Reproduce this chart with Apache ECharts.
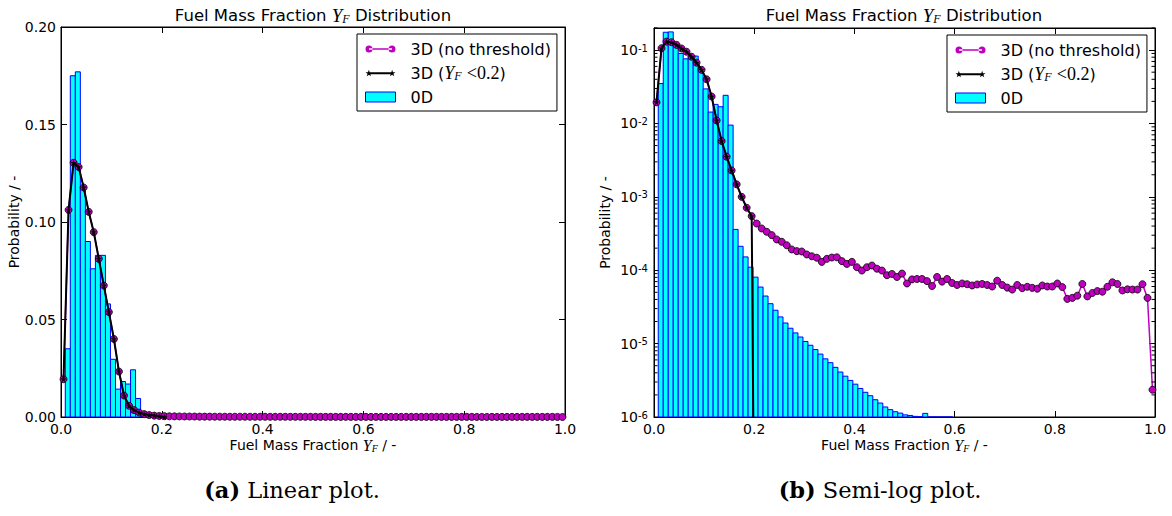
<!DOCTYPE html>
<html><head><meta charset="utf-8">
<script src="https://cdn.jsdelivr.net/npm/echarts@6/dist/echarts.min.js"></script>
<style>html,body{margin:0;padding:0;background:#fff}#c{width:1172px;height:516px}</style>
</head><body><div id="c"></div>
<script>
// ---------- data ----------
const plotTitle = 'Fuel Mass Fraction {it|Y}{sub|F} Distribution';
const xAxisTitle = 'Fuel Mass Fraction {it|Y}{sub|F} / -';
const yAxisTitle = 'Probability / -';
const captionA = '{b|(a)} Linear plot.';
const captionB = '{b|(b)} Semi-log plot.';
const seriesNames = ['3D (no threshold)', '3D (Y_F <0.2)', '0D'];

// 0D histogram: bin edges start and width, then probability per bin
const binStart = 0.0085;
const binWidth = 0.00996;
const hist0D = [
  0.035, 0.175, 0.177, 0.118, 0.090, 0.0760, 0.0829, 0.0829, 0.058, 0.0296,
  0.0143, 0.0182, 0.0169, 0.0242, 0.0095, 3.6e-4, 2.12e-4, 1.52e-4, 1.10e-4, 8.05e-5,
  5.9e-5, 4.45e-5, 3.5e-5, 2.85e-5, 2.31e-5, 1.91e-5, 1.62e-5, 1.40e-5, 1.23e-5, 1.07e-5,
  9.5e-6, 8.3e-6, 7.2e-6, 6.2e-6, 5.5e-6, 4.75e-6, 4.1e-6, 3.6e-6, 3.15e-6, 2.8e-6,
  2.45e-6, 2.17e-6, 1.95e-6, 1.72e-6, 1.55e-6, 1.37e-6, 1.26e-6, 1.18e-6, 1.13e-6, 1.07e-6,
  1.05e-6, 1.02e-6, 1.01e-6, 1.12e-6, 8e-7, 8e-7, 8e-7, 8e-7, 8e-7
];

// 3D points at bin centres 0.005, 0.015, ... 0.995
const pointStart = 0.005;
const pointStep = 0.01;
const prob3D = [
  0.0194, 0.1062, 0.1304, 0.1282, 0.1177, 0.1052, 0.0948, 0.0811, 0.0674, 0.0538,
  0.0400, 0.0233, 0.0110, 0.00576, 0.00352, 0.00229, 0.00148, 0.00100, 0.00071, 0.000546,
  0.000433, 0.000371, 0.000334, 0.000301, 0.000263, 0.000244, 0.000219, 0.000192, 0.000182, 0.000180,
  0.000164, 0.000155, 0.000148, 0.000130, 0.000143, 0.000149, 0.000150, 0.000133, 0.000122, 0.000130,
  0.000110, 0.000099, 0.000110, 0.000116, 0.000105, 0.000099, 0.0000855, 0.000089, 0.000081, 0.000090,
  0.000066, 0.000075, 0.000076, 0.000076, 0.000071, 0.000061, 0.000081, 0.000070, 0.000076, 0.000067,
  0.000063, 0.000066, 0.0000645, 0.000062, 0.000064, 0.000065, 0.000063, 0.000060, 0.000072, 0.000063,
  0.000058, 0.0000545, 0.000063, 0.000057, 0.0000595, 0.0000575, 0.000056, 0.000062, 0.000060, 0.000060,
  0.000066, 0.000059, 0.0000407, 0.000042, 0.000045, 0.000065, 0.000044, 0.000049, 0.000052, 0.000051,
  0.0000595, 0.0000685, 0.000065, 0.000053, 0.000055, 0.0000545, 0.0000545, 0.0000645, 0.000042, 0.00000235
];
// 3D restricted to Y_F < 0.2 (last bin empty)
const prob3DThreshold = [
  0.0194, 0.1062, 0.1304, 0.1282, 0.1177, 0.1052, 0.0948, 0.0811, 0.0674, 0.0538,
  0.0400, 0.0233, 0.0110, 0.00576, 0.00352, 0.00229, 0.00148, 0.00100, 0.00071, 0.000546,
  0
];

const xMin = 0, xMax = 1, xInterval = 0.2;
const linMin = 0, linMax = 0.2, linInterval = 0.05;
const logMin = 1e-6, logMax = 0.2;
const logFloor = 1e-12; // empty bins on log scale (clipped like matplotlib)

// ---------- helpers ----------
function pts(vals, isLog) {
  return vals.map((v, i) => [pointStart + i * pointStep, isLog && v <= 0 ? logFloor : v]);
}
function histData() {
  return hist0D.map((v, i) => [binStart + i * binWidth, binStart + (i + 1) * binWidth, v]);
}
const FONT = 'DejaVu Sans';
const SERIF = 'Liberation Serif';
const mathRich = {
  it: {fontFamily: SERIF, fontStyle: 'italic', fontSize: 16, color: '#000'},
  sub: {fontFamily: SERIF, fontStyle: 'italic', fontSize: 10, color: '#000', verticalAlign: 'bottom', lineHeight: 11}
};

function circle(cx, cy, r) {
  return 'M' + (cx - r) + ',' + cy + 'a' + r + ',' + r + ' 0 1,0 ' + (2 * r) + ',0a' + r + ',' + r + ' 0 1,0 ' + (-2 * r) + ',0Z';
}
function star(cx, cy, ro, ri) {
  let d = '';
  for (let k = 0; k < 10; k++) {
    const a = -Math.PI / 2 + k * Math.PI / 5;
    const r = k % 2 ? ri : ro;
    d += (k ? 'L' : 'M') + (cx + r * Math.cos(a)).toFixed(2) + ',' + (cy + r * Math.sin(a)).toFixed(2);
  }
  return d + 'Z';
}
const starSymbol = 'path://' + star(5, 5, 5, 2);
const iconPurple = 'path://' + circle(3.5, 5, 3.5) + circle(26.5, 5, 3.5) + 'M3.5,4.3H26.5V5.7H3.5Z';
const iconBlack = 'path://' + star(3.5, 5, 3.5, 1.4) + star(26.5, 5, 3.5, 1.4) + 'M3.5,4H26.5V6H3.5Z';

function xAxisDef(grid, pos, labels) {
  return {
    type: 'value', gridIndex: grid, position: pos, min: xMin, max: xMax, interval: xInterval,
    axisLine: {show: true, onZero: false, lineStyle: {color: '#000', width: 1}},
    axisTick: {show: true, inside: true, length: 6, lineStyle: {color: '#000', width: 1}},
    axisLabel: {show: labels, color: '#000', fontFamily: FONT, fontSize: 14, margin: 5,
      formatter: v => v.toFixed(1)},
    splitLine: {show: false},
    name: labels ? xAxisTitle : '', nameLocation: 'middle', nameGap: 20, nameMoveOverlap: false,
    nameTextStyle: {color: '#000', fontFamily: FONT, fontSize: 14, rich: mathRich}
  };
}
function yLin(grid, pos, labels) {
  return {
    type: 'value', gridIndex: grid, position: pos, min: linMin, max: linMax, interval: linInterval,
    axisLine: {show: true, onZero: false, lineStyle: {color: '#000', width: 1}},
    axisTick: {show: true, inside: true, length: 6, lineStyle: {color: '#000', width: 1}},
    axisLabel: {show: labels, color: '#000', fontFamily: FONT, fontSize: 14, margin: 5,
      formatter: v => v.toFixed(2)},
    splitLine: {show: false},
    name: labels ? yAxisTitle : '', nameLocation: 'middle', nameGap: 40, nameRotate: 90,
    nameTextStyle: {color: '#000', fontFamily: FONT, fontSize: 14}
  };
}
function yLog(grid, pos, labels) {
  return {
    type: 'log', logBase: 10, gridIndex: grid, position: pos, min: logMin, max: logMax,
    axisLine: {show: true, onZero: false, lineStyle: {color: '#000', width: 1}},
    axisTick: {show: true, inside: true, length: 6, lineStyle: {color: '#000', width: 1}},
    axisLabel: {show: labels, color: '#000', fontFamily: FONT, fontSize: 14, margin: 6,
      formatter: v => {
        const l = Math.log10(v), e = Math.round(l);
        return Math.abs(l - e) < 1e-6 ? '10{sup|' + e + '}' : '';
      },
      rich: {sup: {fontFamily: FONT, fontSize: 10, color: '#000', verticalAlign: 'top', lineHeight: 11}}},
    splitLine: {show: false},
    name: labels ? yAxisTitle : '', nameLocation: 'middle', nameGap: 42, nameRotate: 90,
    nameTextStyle: {color: '#000', fontFamily: FONT, fontSize: 14}
  };
}
function histSeries(xi, yi, isLog) {
  return {
    type: 'custom', name: seriesNames[2], xAxisIndex: xi, yAxisIndex: yi, z: 1, clip: true,
    itemStyle: {color: '#00ffff', borderColor: '#0000ff', borderWidth: 1},
    data: histData(),
    encode: {x: [0, 1], y: 2},
    renderItem: (params, api) => {
      const base = isLog ? logMin : 0;
      const v = isLog ? Math.max(api.value(2), logMin) : api.value(2);
      const p0 = api.coord([api.value(0), base]);
      const p1 = api.coord([api.value(1), v]);
      return {
        type: 'rect',
        shape: {x: p0[0], y: p1[1], width: p1[0] - p0[0], height: p0[1] - p1[1]},
        style: {fill: '#00ffff', stroke: '#0000ff', lineWidth: 1}
      };
    }
  };
}
function line3D(xi, yi, isLog) {
  return {
    type: 'line', name: seriesNames[0], xAxisIndex: xi, yAxisIndex: yi, z: 3, clip: true,
    data: pts(prob3D, isLog), symbol: 'circle', symbolSize: 7, showSymbol: true, showAllSymbol: true,
    lineStyle: {color: '#bf00bf', width: 1.5},
    itemStyle: {color: '#bf00bf', borderColor: '#000', borderWidth: 0.8},
    emphasis: {disabled: true}
  };
}
function lineThr(xi, yi, isLog) {
  return {
    type: 'line', name: seriesNames[1], xAxisIndex: xi, yAxisIndex: yi, z: 4, clip: true,
    data: pts(prob3DThreshold, isLog), symbol: starSymbol, symbolSize: 6, showSymbol: true, showAllSymbol: true,
    lineStyle: {color: '#000', width: 2},
    itemStyle: {color: '#000'},
    emphasis: {disabled: true}
  };
}
// log minor ticks (2..9 x 10^n) drawn inside both vertical edges through the log scale
const minorVals = [];
for (let e = -6; e <= -1; e++) for (let m = 2; m <= 9; m++) { const v = m * Math.pow(10, e); if (v <= logMax) minorVals.push([0, v]); }
const minorTicks = {
  type: 'custom', xAxisIndex: 2, yAxisIndex: 2, z: 10, silent: true, clip: false,
  data: minorVals, encode: {x: 0, y: 1},
  renderItem: (params, api) => {
    const pl = api.coord([xMin, api.value(1)]);
    const pr = api.coord([xMax, api.value(1)]);
    const st = {stroke: '#000', lineWidth: 1};
    return {type: 'group', children: [
      {type: 'line', shape: {x1: pl[0], y1: pl[1], x2: pl[0] + 3.5, y2: pl[1]}, style: st},
      {type: 'line', shape: {x1: pr[0] - 3.5, y1: pr[1], x2: pr[0], y2: pr[1]}, style: st}
    ]};
  }
};

function legendDef(left, top) {
  return {
    left: left, top: top, orient: 'vertical', itemWidth: 30, itemHeight: 10, itemGap: 6,
    padding: [6, 6, 5, 8], borderColor: '#000', borderWidth: 1, backgroundColor: '#fff',
    selectedMode: false,
    data: [
      {name: seriesNames[0], icon: iconPurple, itemStyle: {color: '#bf00bf', borderWidth: 0}},
      {name: seriesNames[1], icon: iconBlack, itemStyle: {color: '#000', borderWidth: 0}},
      {name: seriesNames[2], icon: 'rect', itemStyle: {color: '#00ffff', borderColor: '#0000ff', borderWidth: 1}}
    ],
    formatter: name => name === seriesNames[1] ? '3D ({it|Y}{sub|F} {m|<0.2})' : name,
    textStyle: {color: '#000', fontFamily: FONT, fontSize: 16, lineHeight: 18, padding: [0, 0, 0, 10],
      rich: {
        it: {fontFamily: SERIF, fontStyle: 'italic', fontSize: 18, color: '#000'},
        sub: {fontFamily: SERIF, fontStyle: 'italic', fontSize: 12, color: '#000', verticalAlign: 'bottom', lineHeight: 12},
        m: {fontFamily: SERIF, fontSize: 18, color: '#000'}
      }}
  };
}
function titleDef(text, cx, top, opts) {
  return Object.assign({text: text, left: cx, top: top, textAlign: 'center', padding: 0,
    textStyle: {color: '#000', fontFamily: FONT, fontSize: 16.5, lineHeight: 20, fontWeight: 'normal', rich: {
      it: {fontFamily: SERIF, fontStyle: 'italic', fontSize: 19, color: '#000'},
      sub: {fontFamily: SERIF, fontStyle: 'italic', fontSize: 12, color: '#000', verticalAlign: 'bottom', lineHeight: 13}
    }}}, opts || {});
}
const captionStyle = {textStyle: {color: '#000', fontFamily: 'DejaVu Serif', fontSize: 22.5, lineHeight: 26, fontWeight: 'normal',
  rich: {b: {fontFamily: 'DejaVu Serif', fontWeight: 'bold', fontSize: 22.5, color: '#000'}}}};

const option = {
  animation: false,
  backgroundColor: '#fff',
  title: [
    titleDef(plotTitle, 313, 5),
    titleDef(plotTitle, 904, 5),
    titleDef(captionA, 292, 477, captionStyle),
    titleDef(captionB, 880, 477, captionStyle)
  ],
  legend: [legendDef(357, 34), legendDef(947, 35)],
  grid: [
    {left: 61, top: 27, width: 504, height: 390, show: true, borderColor: '#000', borderWidth: 1, backgroundColor: 'transparent'},
    {left: 654, top: 28, width: 501, height: 389, show: true, borderColor: '#000', borderWidth: 1, backgroundColor: 'transparent'}
  ],
  xAxis: [xAxisDef(0, 'bottom', true), xAxisDef(0, 'top', false), xAxisDef(1, 'bottom', true), xAxisDef(1, 'top', false)],
  yAxis: [yLin(0, 'left', true), yLin(0, 'right', false), yLog(1, 'left', true), yLog(1, 'right', false)],
  series: [
    histSeries(0, 0, false), line3D(0, 0, false), lineThr(0, 0, false),
    histSeries(2, 2, true), line3D(2, 2, true), lineThr(2, 2, true),
    minorTicks
  ]
};
const chart = echarts.init(document.getElementById('c'), null, {renderer: 'svg'});
chart.setOption(option);
</script>
</body></html>
